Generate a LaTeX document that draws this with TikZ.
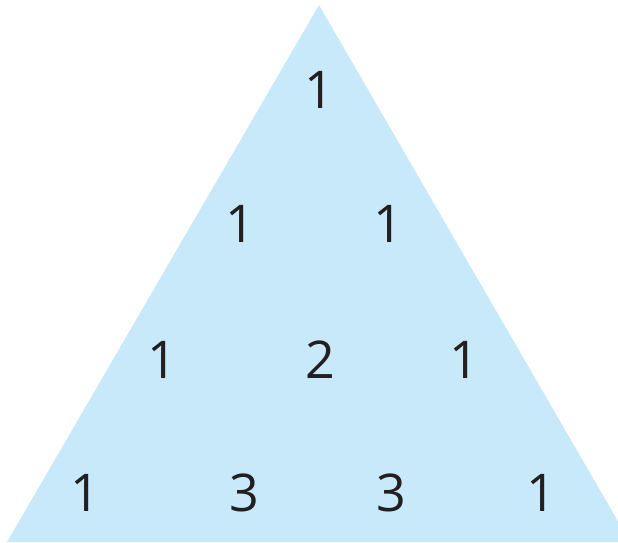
\documentclass[tikz,border=0pt]{standalone}
\usepackage{fontspec}
\setmainfont{Open Sans}
\definecolor{triblue}{RGB}{200,233,249}
\definecolor{numgray}{RGB}{35,31,32}

\begin{document}
\begin{tikzpicture}[x=1pt, y=-1pt, num/.style={font=\fontsize{52}{52}\selectfont, text=numgray, inner sep=0pt}]
\useasboundingbox (0,0) rectangle (618,542);
\clip (0,0) rectangle (618,542);
\fill[triblue] (319,5) -- (7,542) -- (630,542) -- cycle;
\node[num] (a1) at (319,90) {1};
\node[num] (b1) at (240,224) {1};
\node[num] (b2) at (388,224) {1};
\node[num] (c1) at (162,360) {1};
\node[num] (c2) at (320,360) {2};
\node[num] (c3) at (464,360) {1};
\node[num] (d1) at (85,493) {1};
\node[num] (d2) at (244,493) {3};
\node[num] (d3) at (391,493) {3};
\node[num] (d4) at (541,493) {1};
\end{tikzpicture}
\end{document}
